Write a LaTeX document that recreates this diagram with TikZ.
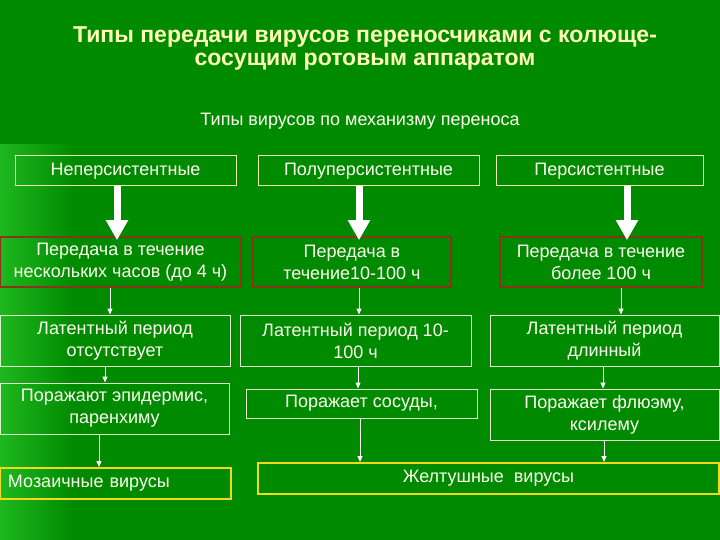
\documentclass[tikz,border=0pt]{standalone}
\usepackage{fontspec}
\setmainfont{Liberation Sans}
\usetikzlibrary{arrows.meta}
\definecolor{BackClr}{rgb}{0,0.54,0}
\definecolor{LightClr}{rgb}{0.12,0.72,0.12}
\definecolor{TitleClr}{rgb}{1,1,0.72}
\definecolor{TextClr}{rgb}{1,1,0.94}
\definecolor{HeadClr}{rgb}{0.93,0.93,0.7}
\definecolor{TimeClr}{rgb}{0.55,0.2,0.1}
\definecolor{PlainClr}{rgb}{0.88,0.94,0.82}
\definecolor{ResultClr}{rgb}{0.95,0.85,0.1}

\begin{document}
\begin{tikzpicture}[x=1pt,y=-1pt,
  box/.style={rectangle,inner sep=0pt,text=TextClr,align=center,font=\fontsize{18}{22}\selectfont},
  headbox/.style={box,draw=HeadClr,line width=1pt},
  timebox/.style={box,draw=TimeClr,line width=1.6pt},
  plainbox/.style={box,draw=PlainClr,line width=1pt},
  resbox/.style={box,draw=ResultClr,line width=2pt},
  bigarrow/.style={draw=white,line width=7pt,shorten >=-4pt,-{Triangle[width=21pt,length=20pt]}},
  smallarrow/.style={draw=white,line width=1pt,-{Triangle[width=5pt,length=6pt]}}]

\useasboundingbox (0,0) rectangle (720,540);
\fill[BackClr] (0,0) rectangle (720,540);
\shade[left color=LightClr,right color=BackClr] (0,145) rectangle (75,540);

\node[font=\fontsize{23}{23}\selectfont\bfseries,text=TitleClr,align=center] (title) at (365,48)
  {Типы передачи вирусов переносчиками с колюще-\\сосущим ротовым аппаратом};
\node[font=\fontsize{18}{19}\selectfont,text=TextClr] (sub) at (360,121) {Типы вирусов по механизму переноса};

\node[headbox,minimum width=221pt,minimum height=30pt] (hA) at (125.5,171) {Неперсистентные};
\node[headbox,minimum width=221pt,minimum height=30pt] (hB) at (368.5,171) {Полуперсистентные};
\node[headbox,minimum width=207pt,minimum height=30pt] (hC) at (599.5,171) {Персистентные};

\node[timebox,minimum width=241pt,minimum height=50pt] (tA) at (120.5,262) {Передача в течение\\нескольких часов (до 4 ч)};
\node[timebox,minimum width=198pt,minimum height=50pt] (tB) at (352,262) {Передача в\\течение10-100 ч};
\node[timebox,minimum width=202pt,minimum height=50pt] (tC) at (601,262) {Передача в течение\\более 100 ч};

\node[plainbox,minimum width=230pt,minimum height=51pt] (lA) at (115,340.5) {Латентный период\\отсутствует};
\node[plainbox,minimum width=231pt,minimum height=51pt] (lB) at (355.5,340.5) {Латентный период 10-\\100 ч};
\node[plainbox,minimum width=229pt,minimum height=51pt] (lC) at (604.5,340.5) {Латентный период\\длинный};

\node[plainbox,minimum width=229pt,minimum height=51pt] (pA) at (114.5,408.5) {Поражают эпидермис,\\паренхиму};
\node[plainbox,minimum width=231pt,minimum height=29pt] (pB) at (361.5,403.5) {Поражает сосуды,};
\node[plainbox,minimum width=229pt,minimum height=51pt] (pC) at (604.5,414.5) {Поражает флюэму,\\ксилему};

\node[resbox,minimum width=231pt,minimum height=31pt,text width=215pt,align=left] (vA) at (115.5,483.5) {Мозаичные вирусы};
\node[resbox,minimum width=461pt,minimum height=31pt] (vB) at (488.5,478.5) {Желтушные\ \ вирусы};

\coordinate (a1) at (117,0);
\coordinate (b1) at (359,0);
\coordinate (c1) at (627,0);
\coordinate (a2) at (110,0);
\coordinate (b2) at (359,0);
\coordinate (c2) at (621,0);
\coordinate (a3) at (105,0);
\coordinate (b3) at (358,0);
\coordinate (c3) at (603,0);
\coordinate (a4) at (99,0);
\coordinate (b4) at (360,0);
\coordinate (c4) at (604,0);

\draw[bigarrow] (hA.south -| a1) -- (tA.north -| a1);
\draw[bigarrow] (hB.south -| b1) -- (tB.north -| b1);
\draw[bigarrow] (hC.south -| c1) -- (tC.north -| c1);

\draw[smallarrow] (tA.south -| a2) -- (lA.north -| a2);
\draw[smallarrow] (tB.south -| b2) -- (lB.north -| b2);
\draw[smallarrow] (tC.south -| c2) -- (lC.north -| c2);

\draw[smallarrow] (lA.south -| a3) -- (pA.north -| a3);
\draw[smallarrow] (lB.south -| b3) -- (pB.north -| b3);
\draw[smallarrow] (lC.south -| c3) -- (pC.north -| c3);

\draw[smallarrow] (pA.south -| a4) -- (vA.north -| a4);
\draw[smallarrow] (pB.south -| b4) -- (vB.north -| b4);
\draw[smallarrow] (pC.south -| c4) -- (vB.north -| c4);

\end{tikzpicture}
\end{document}
